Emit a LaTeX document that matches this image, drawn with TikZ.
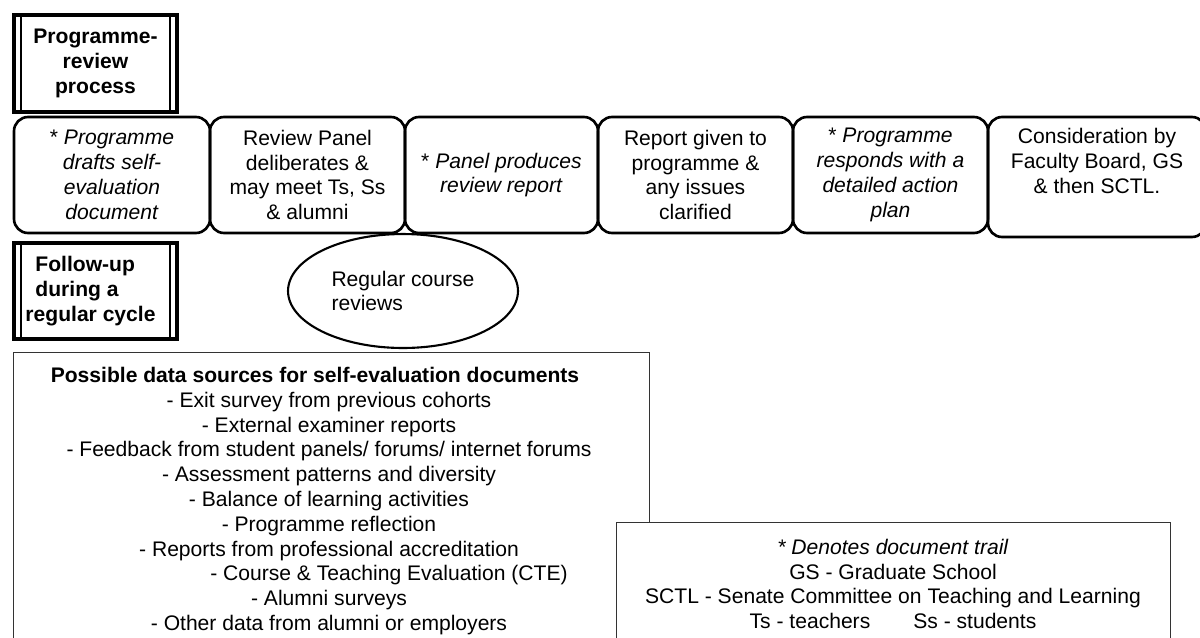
\documentclass[tikz,border=0pt]{standalone}
\usepackage{fontspec}
\setmainfont{Liberation Sans}
\usepackage{xcolor}
\usetikzlibrary{shapes.geometric}

\tikzset{
	headbox/.style={draw,line width=1.9pt,minimum width=3.26cm,inner sep=0pt,align=center,font=\fontsize{12}{14.1}\selectfont\bfseries},
	stepbox/.style={draw,line width=1.5pt,rounded corners=0.28cm,minimum height=2.32cm,inner sep=0pt,align=center},
	listbox/.style={draw=black!80,line width=0.8pt,anchor=north west,inner sep=0pt},
}

\begin{document}
\begin{tikzpicture}[x=0.02cm,y=-0.02cm,font=\fontsize{12}{14.1}\selectfont]
	\fill[white] (0,0) rectangle (1200,637) ;
	\useasboundingbox (0,0) rectangle (1200,637) ;
	\node[headbox,minimum height=1.94cm] (prhead) at (95.5,63.5) {Programme-\\review\\process} ;
	\draw[line width=1.2pt] ([xshift=0.18cm]prhead.north west) -- ([xshift=0.18cm]prhead.south west) ;
	\draw[line width=1.2pt] ([xshift=-0.18cm]prhead.north east) -- ([xshift=-0.18cm]prhead.south east) ;
	\node[stepbox,minimum width=3.92cm] (selfeval) at (112,175) {* \textit{Programme}\\\textit{drafts self-}\\\textit{evaluation}\\\textit{document}} ;
	\node[stepbox,minimum width=3.90cm] (panel) at (307.5,175) {Review Panel\\deliberates \&\\may meet Ts, Ss\\\& alumni} ;
	\node[stepbox,minimum width=3.86cm] (report) at (501.5,175) {* \textit{Panel produces}\\\textit{review report}} ;
	\node[stepbox,minimum width=3.90cm] (given) at (695.5,175) {Report given to\\programme \&\\any issues\\clarified} ;
	\node[stepbox,minimum width=3.90cm] (action) at (890.5,175) {* \textit{Programme}\\\textit{responds with a}\\\textit{detailed action}\\\textit{plan}} ;
	\node[stepbox,minimum width=4.36cm,minimum height=2.40cm] (board) at (1097,177) {Consideration by\\Faculty Board, GS\\\& then SCTL.\\\strut} ;
	\node[headbox,minimum height=1.92cm,align=left] (fuhead) at (95.5,291) {\hspace*{0.2cm}Follow-up\\\hspace*{0.2cm}during a\\regular cycle\hspace*{0.2cm}} ;
	\draw[line width=1.2pt] ([xshift=0.18cm]fuhead.north west) -- ([xshift=0.18cm]fuhead.south west) ;
	\draw[line width=1.2pt] ([xshift=-0.18cm]fuhead.north east) -- ([xshift=-0.18cm]fuhead.south east) ;
	\node[ellipse,draw,line width=1.2pt,minimum width=4.6cm,minimum height=2.28cm,inner sep=0pt,align=left] (courses) at (403,291) {Regular course\\reviews} ;
	\node[listbox,minimum width=12.72cm,minimum height=6cm] (srcbox) at (13,352) {} ;
	\node[align=center] (srclist) at (329,501) {\textbf{Possible data sources for self-evaluation documents}\hspace*{0.56cm}\\
		- Exit survey from previous cohorts\\
		- External examiner reports\\
		- Feedback from student panels/ forums/ internet forums\\
		- Assessment patterns and diversity\\
		- Balance of learning activities\\
		- Programme reflection\\
		- Reports from professional accreditation\\
		\hspace*{2.4cm}- Course \& Teaching Evaluation (CTE)\\
		- Alumni surveys\\
		- Other data from alumni or employers} ;
	\node[listbox,fill=white,minimum width=11.08cm,minimum height=4cm] (legbox) at (616,522) {} ;
	\node[align=center] (legend) at (893,584) {\textit{* Denotes document trail}\\
		GS - Graduate School\\
		SCTL - Senate Committee on Teaching and Learning\\
		Ts - teachers\hspace{0.86cm}Ss - students} ;
\end{tikzpicture}
\end{document}
